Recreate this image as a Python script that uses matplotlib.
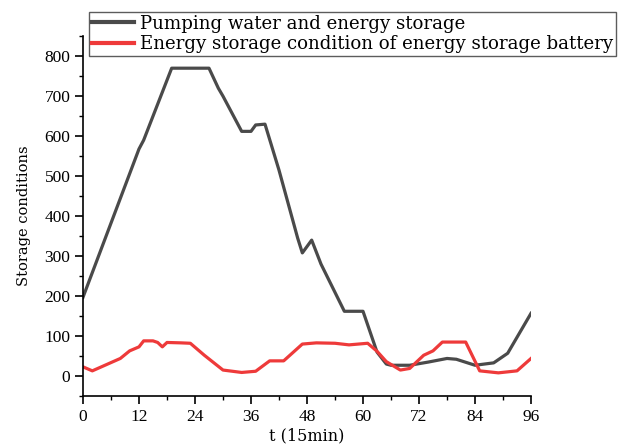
import matplotlib
matplotlib.use('Agg')
import matplotlib.pyplot as plt
from matplotlib.ticker import MultipleLocator

# Pumping water and energy storage (grey)
pump_t = [0, 12, 13, 19, 27, 29, 30, 34, 36, 37, 39, 42, 46, 47, 49, 51,
          56, 60, 63, 65, 66, 70, 74, 78, 80, 84, 86, 88, 91, 96]
pump_v = [197, 568, 590, 770, 770, 720, 700, 612, 612, 628, 630, 515, 345, 308, 340, 280,
          162, 162, 60, 30, 27, 27, 35, 44, 42, 27, 30, 33, 57, 157]

# Energy storage battery (red)
batt_t = [0, 2, 8, 10, 12, 13, 15, 16, 17, 18, 21, 23, 26, 30, 34, 37, 40, 43,
          47, 50, 54, 57, 61, 63, 65, 68, 70, 73, 75, 77, 82, 85, 89, 93, 96]
batt_v = [23, 13, 44, 63, 73, 88, 88, 84, 73, 84, 83, 82, 52, 15, 9, 12, 38, 38,
          80, 83, 82, 78, 82, 62, 36, 15, 19, 52, 63, 85, 85, 13, 8, 13, 44]

labels = ['Pumping water and energy storage',
          'Energy storage condition of energy storage battery']

TICKFONT = 'Liberation Serif'
TEXTFONT = 'DejaVu Serif'

fig = plt.figure(figsize=(6.24, 4.47), dpi=100)
ax = fig.add_axes([0.133, 0.114, 0.718, 0.805])

ax.plot(pump_t, pump_v, color='#4a4a4a', linewidth=2.3, label=labels[0])
ax.plot(batt_t, batt_v, color='#ee3a3a', linewidth=2.3, label=labels[1])

ax.set_xlim(0, 96)
ax.set_ylim(-50, 850)
ax.xaxis.set_major_locator(MultipleLocator(12))
ax.xaxis.set_minor_locator(MultipleLocator(6))
ax.yaxis.set_major_locator(MultipleLocator(100))
ax.yaxis.set_minor_locator(MultipleLocator(50))
ax.set_yticks(range(0, 801, 100))

for side in ['top', 'right']:
    ax.spines[side].set_visible(False)
for side in ['left', 'bottom']:
    ax.spines[side].set_linewidth(1.2)

ax.tick_params(which='major', direction='out', length=6, width=1.2, labelsize=12.5, pad=3)
ax.tick_params(which='minor', direction='out', length=3, width=1.0)
for lab in ax.get_xticklabels() + ax.get_yticklabels():
    lab.set_fontfamily(TICKFONT)

ax.set_xlabel('t (15min)', fontsize=11.5, family=TEXTFONT, labelpad=2)
ax.set_ylabel('Storage conditions', fontsize=10.5, family=TEXTFONT, labelpad=10)

leg = ax.legend(loc='upper left', bbox_to_anchor=(89 / 624, 1 - 12 / 447),
                bbox_transform=fig.transFigure, frameon=True, fancybox=False,
                prop={'family': TEXTFONT, 'size': 13.1}, handlelength=2.3,
                handletextpad=0.38, borderpad=0.15, labelspacing=0.15,
                borderaxespad=0)
leg.get_frame().set_edgecolor('#333333')
leg.get_frame().set_linewidth(1.0)
for line in leg.get_lines():
    line.set_linewidth(3)

fig.savefig('out.png', dpi=100)
